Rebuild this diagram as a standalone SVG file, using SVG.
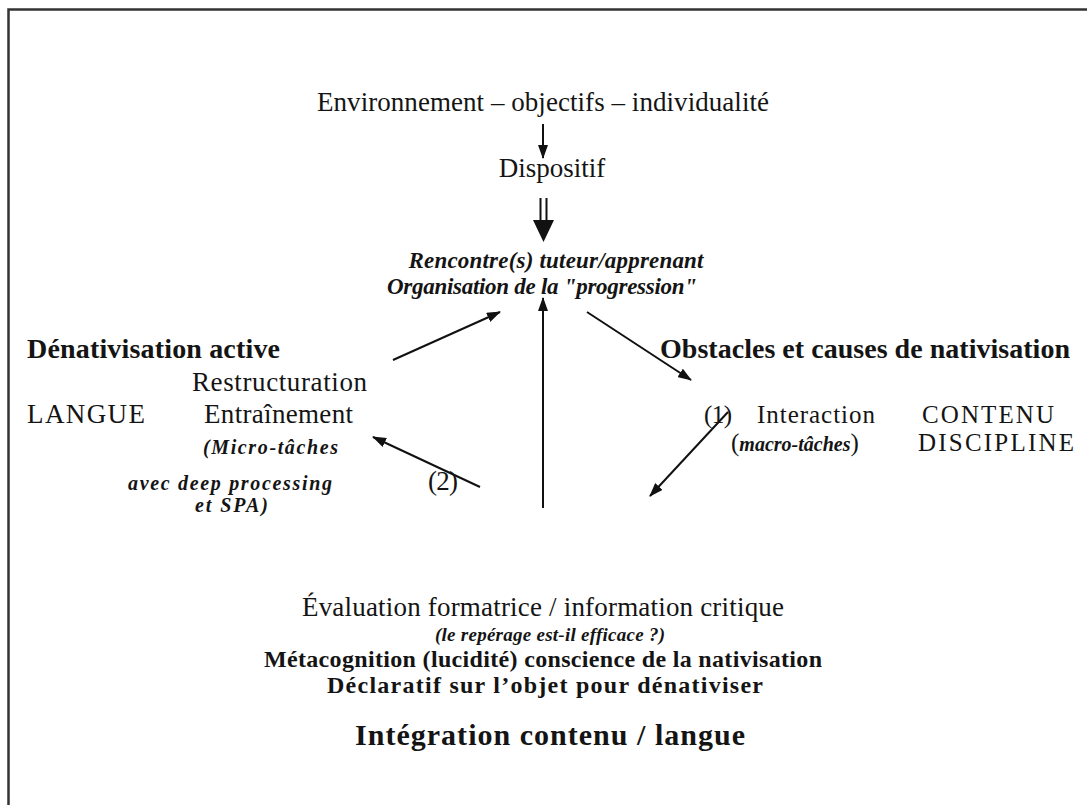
<svg xmlns="http://www.w3.org/2000/svg" width="1087" height="805" viewBox="0 0 1087 805">
<defs>
<marker id="ah" markerWidth="14" markerHeight="10" refX="13" refY="5" orient="auto" markerUnits="userSpaceOnUse">
<path d="M0,0 L14,5 L0,10 Z" fill="#111"/>
</marker>
<style>
text{font-family:"Liberation Serif","Times New Roman",serif;fill:#141414;}
.n{font-size:27px;}
.m{font-size:25px;}
.b{font-size:28px;font-weight:bold;}
.b2{font-size:24px;font-weight:bold;}
.bi{font-size:23px;font-weight:bold;font-style:italic;}
.bis{font-size:20px;font-weight:bold;font-style:italic;}
.bix{font-size:19px;font-weight:bold;font-style:italic;}
.big{font-size:30px;font-weight:bold;}
.ln{stroke:#111;stroke-width:2;fill:none;}
</style>
</defs>
<rect x="0" y="0" width="1087" height="805" fill="#fff"/>
<rect x="8.5" y="9.5" width="1200" height="900" fill="none" stroke="#333" stroke-width="2.5"/>

<g id="connectors">
<line class="ln" x1="543" y1="124" x2="543" y2="158" marker-end="url(#ah)"/>
<line x1="540.5" y1="198" x2="540.5" y2="221" stroke="#111" stroke-width="2"/>
<line x1="546.5" y1="198" x2="546.5" y2="221" stroke="#111" stroke-width="2"/>
<path d="M533,220 L554,220 L543.5,242 Z" fill="#111"/>
<line class="ln" x1="543" y1="508" x2="543" y2="298" marker-end="url(#ah)"/>
<line class="ln" x1="393" y1="360" x2="500" y2="312" marker-end="url(#ah)"/>
<line class="ln" x1="587" y1="312" x2="691" y2="380" marker-end="url(#ah)"/>
<line class="ln" x1="728" y1="412" x2="650" y2="496" marker-end="url(#ah)"/>
<line class="ln" x1="480" y1="487" x2="373" y2="437" marker-end="url(#ah)"/>
</g>

<g id="n-environnement"><text class="n" x="543" y="111" text-anchor="middle" textLength="452">Environnement – objectifs – individualité</text></g>
<g id="n-dispositif"><text class="n" x="552" y="177" text-anchor="middle">Dispositif</text></g>
<g id="n-rencontre">
<text class="bi" x="556" y="268" text-anchor="middle" textLength="295">Rencontre(s) tuteur/apprenant</text>
<text class="bi" x="542" y="294" text-anchor="middle" textLength="310">Organisation de la "progression"</text>
</g>
<g id="n-denativisation">
<text class="b" x="27" y="358" textLength="253">Dénativisation active</text>
<text class="n" x="192" y="391" textLength="175">Restructuration</text>
<text class="n" x="27" y="423" textLength="118">LANGUE</text>
<text class="n" x="204" y="423" textLength="149">Entraînement</text>
<text class="bis" x="203" y="454" textLength="135">(Micro-tâches</text>
<text class="bis" x="128" y="490" textLength="204">avec deep processing</text>
<text class="bis" x="195" y="512" textLength="73">et SPA)</text>
</g>
<g id="n-label2"><text class="n" x="428" y="490" textLength="30">(2)</text></g>
<g id="n-obstacles">
<text class="b" x="660" y="358" textLength="410">Obstacles et causes de nativisation</text>
<text class="m" x="704" y="423" textLength="28">(1)</text>
<text class="m" x="757" y="423" textLength="118">Interaction</text>
<text class="m" x="922" y="423" textLength="132">CONTENU</text>
<text class="m" x="731" y="451"><tspan>(</tspan><tspan font-size="20" font-weight="bold" font-style="italic">macro-tâches</tspan><tspan>)</tspan></text>
<text class="m" x="918" y="451" textLength="156">DISCIPLINE</text>
</g>
<g id="n-evaluation">
<text class="n" x="543" y="616" text-anchor="middle" textLength="482">Évaluation formatrice / information critique</text>
<text class="bix" x="550" y="641" text-anchor="middle" textLength="230">(le repérage est-il efficace ?)</text>
<text class="b2" x="543" y="667" text-anchor="middle" textLength="558">Métacognition (lucidité) conscience de la nativisation</text>
<text class="b2" x="545" y="693" text-anchor="middle" textLength="436">Déclaratif sur l’objet pour dénativiser</text>
<text class="big" x="550" y="745" text-anchor="middle" textLength="390">Intégration contenu / langue</text>
</g>
</svg>
